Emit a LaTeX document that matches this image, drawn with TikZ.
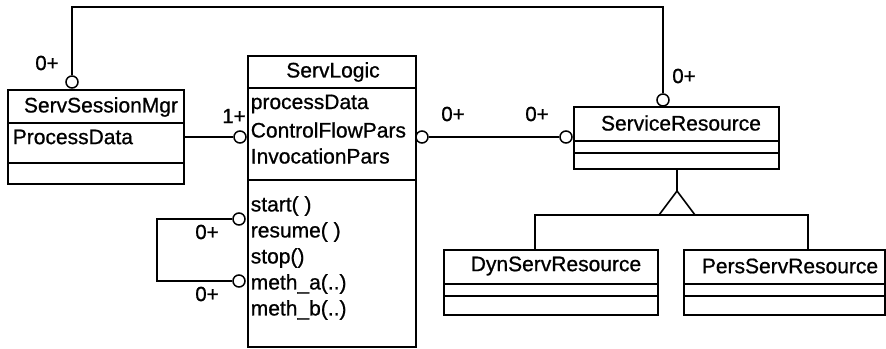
\documentclass[tikz,border=0pt]{standalone}
\usepackage{fontspec}
\setmainfont{Liberation Sans}
\newfontfamily\umlfont{Liberation Sans}[FakeBold=0.8]
\begin{document}
\begin{tikzpicture}[x=1pt,y=-1pt, line width=1.6pt,
  cls/.style={draw, rectangle, anchor=north west, inner sep=0pt, line width=1.6pt},
  assoc/.style={draw, circle, fill=white, minimum size=12pt, inner sep=0pt, line width=1.5pt},
  txt/.style={font=\umlfont\fontsize{21}{24}\selectfont, inner sep=0pt},
  attr/.style={txt, anchor=west},
  mult/.style={font=\umlfont\fontsize{20.5}{22}\selectfont, inner sep=0pt}]
\useasboundingbox (0,0) rectangle (886,348);

% classes
\node[cls, minimum width=176pt, minimum height=94pt] (ssm) at (7,89) {};
\node[cls, minimum width=168pt, minimum height=291pt] (logic) at (247,55) {};
\node[cls, minimum width=205pt, minimum height=62pt] (sr) at (573,106) {};
\node[cls, minimum width=214pt, minimum height=65pt] (dyn) at (443,249) {};
\node[cls, minimum width=201pt, minimum height=65pt] (pers) at (683,249) {};

% dividers
\draw (7,123) -- (183,123);
\draw (7,163) -- (183,163);
\draw (247,88) -- (415,88);
\draw (247,180) -- (415,180);
\draw (573,141) -- (778,141);
\draw (573,153) -- (778,153);
\draw (443,284) -- (657,284);
\draw (443,296) -- (657,296);
\draw (683,284) -- (884,284);
\draw (683,296) -- (884,296);

% texts
\node[txt] (t_ssm) at (101,107) {ServSessionMgr};
\node[attr] (a_pd) at (12,137) {ProcessData};
\node[txt] (t_logic) at (333,72) {ServLogic};
\node[attr] (a1) at (250,104) {processData};
\node[attr] (a2) at (250,130) {ControlFlowPars};
\node[attr] (a3) at (250,156) {InvocationPars};
\node[attr] (m1) at (250,206) {start( )};
\node[attr] (m2) at (250,232) {resume( )};
\node[attr] (m3) at (250,258) {stop()};
\node[attr] (m4) at (250,284) {meth\_a(..)};
\node[attr] (m5) at (250,310) {meth\_b(..)};
\node[txt] (t_sr) at (681,123) {ServiceResource};
\node[txt] (t_dyn) at (556,266) {DynServResource};
\node[txt] (t_pers) at (790,266) {PersServResource};

% association ends
\node[assoc] (c_top1) at (72,82) {};
\node[assoc] (c_ll) at (240,137) {};
\node[assoc] (c_lr) at (422,137) {};
\node[assoc] (c_srl) at (566,137) {};
\node[assoc] (c_top2) at (663,100) {};
\node[assoc] (c_start) at (239,219) {};
\node[assoc] (c_meth) at (239,281) {};

\coordinate (tl) at (72,7);
\coordinate (tr) at (663,7);
\coordinate (lt) at (157,219);
\coordinate (lb) at (157,281);

\draw (c_top1) -- (tl) -- (tr) -- (c_top2);
\draw (ssm.east |- c_ll) -- (c_ll);
\draw (c_lr) -- (c_srl);
\draw (c_start) -- (lt) -- (lb) -- (c_meth);

% generalization
\coordinate (apex) at (677,191);
\coordinate (bl) at (659,215);
\coordinate (br) at (695,215);
\coordinate (jd) at (535,215);
\coordinate (jp) at (808,215);
\draw (sr.south -| apex) -- (apex);
\draw[line join=miter] (apex) -- (bl) -- (br) -- cycle;
\draw (dyn.north -| jd) -- (jd) -- (jp) -- (pers.north -| jp);

% multiplicities
\node[mult] (m_a) at (47,63) {0+};
\node[mult] (m_b) at (234,116) {1+};
\node[mult] (m_c) at (453,114) {0+};
\node[mult] (m_d) at (537,114) {0+};
\node[mult] (m_e) at (684,76) {0+};
\node[mult] (m_f) at (207,232) {0+};
\node[mult] (m_g) at (207,294) {0+};
\end{tikzpicture}
\end{document}
